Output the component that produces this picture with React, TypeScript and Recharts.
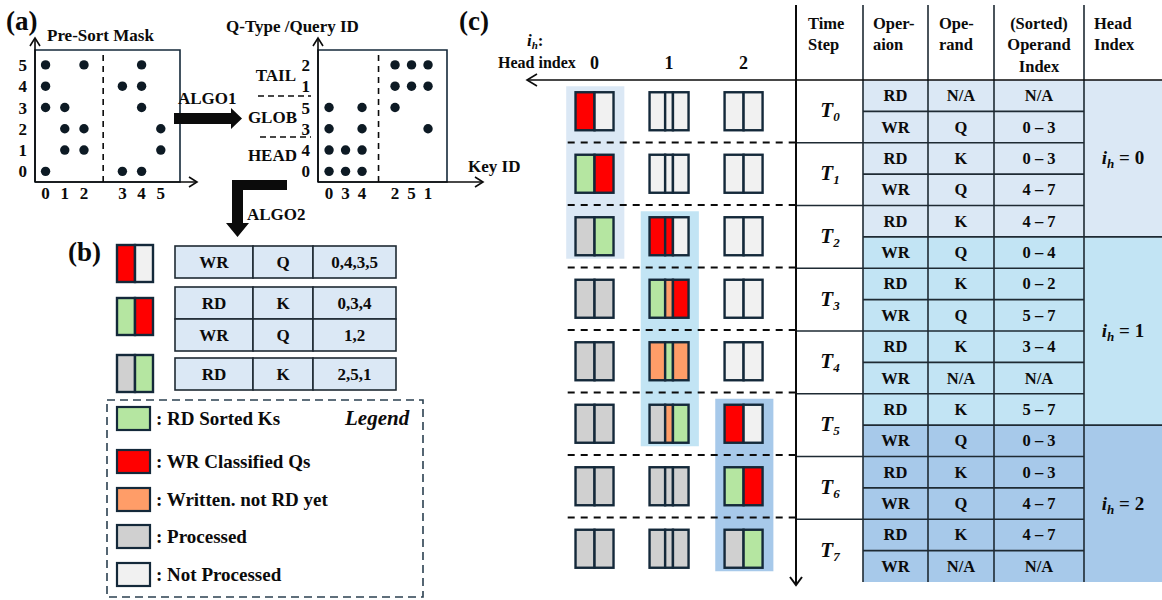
import React from 'react';
import { ScatterChart, Scatter, XAxis, YAxis, ReferenceArea, ReferenceLine } from 'recharts';

const FONT = '"Liberation Serif", "Times New Roman", serif';
const INK = '#0b0b0b';
const EDGE = '#14293a';

// ---- (a) masks: which key ids each query id attends to
const preKeyOrder = [0, 1, 2, 3, 4, 5];
const preQueryOrder = [0, 1, 2, 3, 4, 5];
const preMask = [
  { query: 5, keys: [0, 2, 4] },
  { query: 4, keys: [0, 3, 4] },
  { query: 3, keys: [0, 1, 4] },
  { query: 2, keys: [1, 2, 5] },
  { query: 1, keys: [1, 2, 5] },
  { query: 0, keys: [0, 3, 4] },
];
const sortedKeyOrder = [0, 3, 4, 2, 5, 1];
const sortedQueryOrder = [0, 4, 3, 5, 1, 2];
const sortedMask = [
  { query: 2, keys: [2, 5, 1] },
  { query: 1, keys: [2, 5, 1] },
  { query: 5, keys: [0, 4, 2] },
  { query: 3, keys: [0, 4, 1] },
  { query: 4, keys: [0, 3, 4] },
  { query: 0, keys: [0, 3, 4] },
];
const queryGroups = ['HEAD', 'GLOB', 'TAIL'];
const keySplit = 3;

// ---- (b) ALGO2 output
const algo2Icons = ['RL', 'GR', 'PG'];
const algo2Rows = [
  [['WR', 'Q', '0,4,3,5']],
  [['RD', 'K', '0,3,4'], ['WR', 'Q', '1,2']],
  [['RD', 'K', '2,5,1']],
];
const legendCodes = ['G', 'R', 'O', 'P', 'L'];
const legendLabels = [': RD Sorted Ks', ': WR Classified Qs', ': Written. not RD yet', ': Processed', ': Not Processed'];

// ---- (c) schedule
const headIndices = [0, 1, 2];
const timeSteps = [0, 1, 2, 3, 4, 5, 6, 7];
const headStates = [
  ['RL', 'GR', 'PG', 'PP', 'PP', 'PP', 'PP', 'PP'],
  ['LLL', 'LLL', 'RRL', 'GOR', 'OGO', 'POG', 'PPP', 'PPP'],
  ['LL', 'LL', 'LL', 'LL', 'LL', 'RL', 'GR', 'PG'],
];
const activeSpans = [
  { head: 0, from: 0, to: 2 },
  { head: 1, from: 2, to: 5 },
  { head: 2, from: 5, to: 7 },
];
const operations = ['RD', 'WR', 'RD', 'WR', 'RD', 'WR', 'RD', 'WR', 'RD', 'WR', 'RD', 'WR', 'RD', 'WR', 'RD', 'WR'];
const operands = ['N/A', 'Q', 'K', 'Q', 'K', 'Q', 'K', 'Q', 'K', 'N/A', 'K', 'Q', 'K', 'Q', 'K', 'N/A'];
const operandIndex = ['N/A', '0 – 3', '0 – 3', '4 – 7', '4 – 7', '0 – 4', '0 – 2', '5 – 7', '3 – 4', 'N/A', '5 – 7', '0 – 3', '0 – 3', '4 – 7', '4 – 7', 'N/A'];
const headRowRanges = [
  { head: 0, first: 0, last: 4 },
  { head: 1, first: 5, last: 10 },
  { head: 2, first: 11, last: 15 },
];

const SEG_FILL: Record<string, string> = {
  R: '#ff0000',
  L: '#f1f1f1',
  G: '#b5e6a1',
  O: '#ff9d68',
  P: '#d0d0d0',
};
const HEAD_FILL = ['#dbe8f5', '#c2e4f4', '#a7c9ea'];

const tickStyle = { fontSize: 17, fontWeight: 700, fill: INK, fontFamily: FONT };

const slotOf = (order: number[], key: number) => {
  const i = order.indexOf(key);
  return i < keySplit ? i : i + 1;
};

const MaskDot = (props: any) => <circle cx={props.cx} cy={props.cy} r={4.7} fill="#0d1a24" />;

function MaskPlot({ keyOrder, queryOrder, mask, left, yAxisWidth, width, xDomain }: any) {
  const points = mask.flatMap((r: any) =>
    r.keys.map((k: number) => ({ slot: slotOf(keyOrder, k), row: queryOrder.indexOf(r.query) }))
  );
  const xTicks = keyOrder.map((k: number) => slotOf(keyOrder, k));
  const yTicks = queryOrder.map((_: number, i: number) => i);
  const yDomain = [-0.5, 5.7];
  return (
    <div style={{ position: 'absolute', left, top: 0 }}>
      <ScatterChart width={width} height={210} margin={{ top: 50, right: 20, bottom: 0, left: 0 }}>
        <XAxis
          type="number"
          dataKey="slot"
          domain={xDomain}
          ticks={xTicks}
          interval={0}
          tickFormatter={(v: number) => String(keyOrder[v < keySplit ? v : v - 1])}
          axisLine={false}
          tickLine={false}
          tickSize={0}
          tickMargin={5}
          height={28}
          tick={tickStyle}
        />
        <YAxis
          type="number"
          dataKey="row"
          domain={yDomain}
          ticks={yTicks}
          interval={0}
          tickFormatter={(v: number) => String(queryOrder[v])}
          axisLine={false}
          tickLine={false}
          tickSize={0}
          tickMargin={8}
          width={yAxisWidth}
          tick={tickStyle}
        />
        <ReferenceArea x1={xDomain[0]} x2={xDomain[1]} y1={yDomain[0]} y2={yDomain[1]} fill="none" fillOpacity={0} stroke={EDGE} strokeWidth={1.6} />
        <ReferenceLine x={keySplit} stroke={INK} strokeDasharray="6 5" strokeWidth={1.6} />
        <Scatter data={points} isAnimationActive={false} shape={MaskDot} />
      </ScatterChart>
    </div>
  );
}

function Icon({ x, y, w, h, state, sw = 2.4 }: any) {
  const codes = state.split('');
  const fracs = codes.length === 3 ? [0.4, 0.2, 0.4] : [0.5, 0.5];
  let cur = x;
  return (
    <g>
      {codes.map((c: string, i: number) => {
        const segW = w * fracs[i];
        const r = <rect key={i} x={cur} y={y} width={segW} height={h} fill={SEG_FILL[c]} stroke={EDGE} strokeWidth={sw} />;
        cur += segW;
        return r;
      })}
    </g>
  );
}

const BufferShape = (props: any) => {
  const { cx, cy, payload } = props;
  const w = payload.state.length === 3 ? 39 : 38;
  return <Icon x={cx - w / 2} y={cy - 19} w={w} h={38} state={payload.state} />;
};

function BufferGrid() {
  const cells = headIndices.flatMap((h) => timeSteps.map((t) => ({ head: h, step: t, state: headStates[h][t] })));
  return (
    <div style={{ position: 'absolute', left: 520, top: 80 }}>
      <ScatterChart width={275} height={505} margin={{ top: 0, right: 0, bottom: 0, left: 0 }}>
        <XAxis type="number" dataKey="head" domain={[-1, 2.69]} hide />
        <YAxis type="number" dataKey="step" domain={[-0.5, 7.58]} reversed hide />
        {activeSpans.map((s) => (
          <ReferenceArea
            key={s.head}
            x1={s.head - 0.38}
            x2={s.head + 0.4}
            y1={s.from - 0.4}
            y2={s.to + 0.36}
            fill={HEAD_FILL[s.head]}
            fillOpacity={1}
            stroke="none"
          />
        ))}
        {timeSteps.slice(1).map((t) => (
          <ReferenceLine
            key={t}
            segment={[{ x: -0.36, y: t - 0.5 }, { x: 2.69, y: t - 0.5 }]}
            stroke={INK}
            strokeWidth={2}
            strokeDasharray="7 6"
            ifOverflow="visible"
          />
        ))}
        <Scatter data={cells} isAnimationActive={false} shape={BufferShape} />
      </ScatterChart>
    </div>
  );
}

const TBL_TOP = 80;
const ROW_H = 31.375;
const COLS = [797, 863, 928, 994, 1084, 1162];
const rowY = (i: number) => TBL_TOP + i * ROW_H;
const headOfRow = (i: number) => headRowRanges.find((g) => i >= g.first && i <= g.last)!.head;

function ScheduleTable() {
  const line = { stroke: '#1e2a33', strokeWidth: 1.6 };
  const colCenter = (c: number) => (COLS[c] + COLS[c + 1]) / 2;
  return (
    <g>
      {operations.map((_, i) => (
        <rect key={'f' + i} x={COLS[1]} y={rowY(i)} width={COLS[4] - COLS[1]} height={ROW_H} fill={HEAD_FILL[headOfRow(i)]} />
      ))}
      {headRowRanges.map((g) => (
        <rect key={'h' + g.head} x={COLS[4]} y={rowY(g.first)} width={COLS[5] - COLS[4]} height={rowY(g.last + 1) - rowY(g.first)} fill={HEAD_FILL[g.head]} />
      ))}
      {operations.map((_, i) => (i === 0 ? null : <line key={'r' + i} x1={COLS[1]} x2={COLS[4]} y1={rowY(i)} y2={rowY(i)} {...line} />))}
      {timeSteps.slice(1).map((t) => (
        <line key={'t' + t} x1={COLS[0]} x2={COLS[1]} y1={rowY(t * 2)} y2={rowY(t * 2)} {...line} />
      ))}
      {headRowRanges.slice(1).map((g) => (
        <line key={'g' + g.head} x1={COLS[4]} x2={COLS[5]} y1={rowY(g.first)} y2={rowY(g.first)} {...line} />
      ))}
      {[1, 2, 3, 4].map((c) => (
        <line key={'v' + c} x1={COLS[c]} x2={COLS[c]} y1={5} y2={rowY(16)} {...line} />
      ))}
      {/* header */}
      <g fontSize={16.5} fill={INK}>
        <text x={808} y={29}>Time</text>
        <text x={808} y={50}>Step</text>
        <text x={873} y={29}>Oper-</text>
        <text x={873} y={50}>aion</text>
        <text x={939} y={29}>Ope-</text>
        <text x={939} y={50}>rand</text>
        <text x={colCenter(3)} y={29} textAnchor="middle">(Sorted)</text>
        <text x={colCenter(3)} y={50} textAnchor="middle">Operand</text>
        <text x={colCenter(3)} y={72} textAnchor="middle">Index</text>
        <text x={1094} y={29}>Head</text>
        <text x={1094} y={50}>Index</text>
      </g>
      <g fontSize={16.5} fill={INK} textAnchor="middle">
        {operations.map((op, i) => {
          const cy = rowY(i) + ROW_H / 2 + 5.5;
          return (
            <g key={'x' + i}>
              <text x={colCenter(1)} y={cy}>{op}</text>
              <text x={colCenter(2)} y={cy}>{operands[i]}</text>
              <text x={colCenter(3)} y={cy}>{operandIndex[i]}</text>
            </g>
          );
        })}
        {timeSteps.map((t) => (
          <text key={'T' + t} x={830} y={rowY(t * 2 + 1) + 6} fontStyle="italic" fontSize={21}>
            T<tspan fontSize={13} dy={4}>{t}</tspan>
          </text>
        ))}
        {headRowRanges.map((g) => (
          <text key={'ih' + g.head} x={colCenter(4)} y={(rowY(g.first) + rowY(g.last + 1)) / 2 + 6} fontSize={19}>
            <tspan fontStyle="italic">i</tspan>
            <tspan fontStyle="italic" fontSize={13} dy={4}>h</tspan>
            <tspan dy={-4}>{' = ' + g.head}</tspan>
          </text>
        ))}
      </g>
    </g>
  );
}

function Overlay() {
  const arrow = { stroke: INK, strokeWidth: 1.6, fill: 'none' };
  return (
    <svg width={1162} height={600} style={{ position: 'absolute', left: 0, top: 0 }} fontFamily={FONT} fontWeight={700}>
      {/* (a) */}
      <text x={6} y={30} fontSize={27} fill={INK}>(a)</text>
      <text x={47} y={41} fontSize={17} fill={INK}>Pre-Sort Mask</text>
      <text x={226} y={32} fontSize={17} fill={INK}>Q-Type /Query ID</text>
      <text x={468} y={172} fontSize={17} fill={INK}>Key ID</text>
      {[35, 318].map((x) => (
        <g key={x} {...arrow}>
          <line x1={x} y1={182} x2={x} y2={38} />
          <polyline points={`${x - 5},46 ${x},38 ${x + 5},46`} />
        </g>
      ))}
      <g {...arrow}>
        <line x1={35} y1={182} x2={197} y2={182} />
        <polyline points="189,177 197,182 189,187" />
        <line x1={318} y1={182} x2={483} y2={182} />
        <polyline points="475,177 483,182 475,187" />
      </g>
      <g stroke={INK} strokeWidth={1.6} strokeDasharray="6 4">
        <line x1={258} y1={96} x2={311} y2={96} />
        <line x1={260} y1={137} x2={311} y2={137} />
      </g>
      <g fontSize={17} fill={INK} textAnchor="end">
        <text x={296} y={81}>{queryGroups[2]}</text>
        <text x={297} y={123}>{queryGroups[1]}</text>
        <text x={297} y={161}>{queryGroups[0]}</text>
      </g>
      <text x={178} y={104} fontSize={17} fill={INK}>ALGO1</text>
      <polygon points="174,113 231,113 231,108 242,118.5 231,129 231,124 174,124" fill={INK} />
      <polygon points="232,180 287,180 287,190 243,190 243,223 249,223 237.5,237 226,223 232,223" fill={INK} />
      <text x={247} y={220} fontSize={17} fill={INK}>ALGO2</text>

      {/* (b) */}
      <text x={68} y={261} fontSize={27} fill={INK}>(b)</text>
      {algo2Icons.map((s, i) => (
        <Icon key={s} x={117} y={[245, 298, 355][i]} w={36} h={37} state={s} />
      ))}
      {algo2Rows.map((rows, gi) =>
        rows.map((r, ri) => {
          const top = [246, 287, 358][gi] + ri * 32;
          const cols = [175, 253, 313, 396];
          return (
            <g key={gi + '-' + ri}>
              {r.map((txt, ci) => (
                <g key={ci}>
                  <rect x={cols[ci]} y={top} width={cols[ci + 1] - cols[ci]} height={32} fill="#dbe8f5" stroke="#1e2a33" strokeWidth={1.6} />
                  <text x={(cols[ci] + cols[ci + 1]) / 2} y={top + 22} fontSize={17} textAnchor="middle" fill={INK}>{txt}</text>
                </g>
              ))}
            </g>
          );
        })
      )}
      <rect x={107} y={400} width={316} height={197} fill="none" stroke="#2b4050" strokeWidth={1.6} strokeDasharray="8 5" />
      <text x={345} y={425} fontSize={21} fontStyle="italic" fill={INK}>Legend</text>
      {legendCodes.map((c, i) => {
        const top = [407, 450, 488, 525, 563][i];
        return (
          <g key={c}>
            <rect x={117} y={top} width={33} height={23} fill={SEG_FILL[c]} stroke={EDGE} strokeWidth={2.2} />
            <text x={156} y={top + 18} fontSize={19} fill={INK}>{legendLabels[i]}</text>
          </g>
        );
      })}

      {/* (c) */}
      <text x={459} y={30} fontSize={27} fill={INK}>(c)</text>
      <text x={527} y={46} fontSize={17} fill={INK}>
        <tspan fontStyle="italic">i</tspan>
        <tspan fontStyle="italic" fontSize={11} dy={3}>h</tspan>
        <tspan dy={-3}>:</tspan>
      </text>
      <text x={498} y={68} fontSize={16} fill={INK}>Head index</text>
      {headIndices.map((h) => (
        <text key={h} x={594.5 + 74.5 * h} y={69} fontSize={18} textAnchor="middle" fill={INK}>{h}</text>
      ))}
      <ScheduleTable />
      <g {...arrow}>
        <line x1={527} y1={80} x2={1162} y2={80} />
        <polyline points="537,74 527,80 537,86" />
        <line x1={796} y1={5} x2={796} y2={585} strokeWidth={2} />
        <polyline points="790,577 796,585 802,577" strokeWidth={2} />
      </g>
    </svg>
  );
}

export default function App() {
  return (
    <div style={{ position: 'absolute', left: 0, top: 0, width: 1162, height: 600, background: '#fff', fontFamily: FONT, overflow: 'hidden' }}>
      <MaskPlot keyOrder={preKeyOrder} queryOrder={preQueryOrder} mask={preMask} left={0} yAxisWidth={35} width={200} xDomain={[-0.55, 7.0]} />
      <MaskPlot keyOrder={sortedKeyOrder} queryOrder={sortedQueryOrder} mask={sortedMask} left={270} yAxisWidth={48} width={197} xDomain={[-0.67, 7.15]} />
      <BufferGrid />
      <Overlay />
    </div>
  );
}
